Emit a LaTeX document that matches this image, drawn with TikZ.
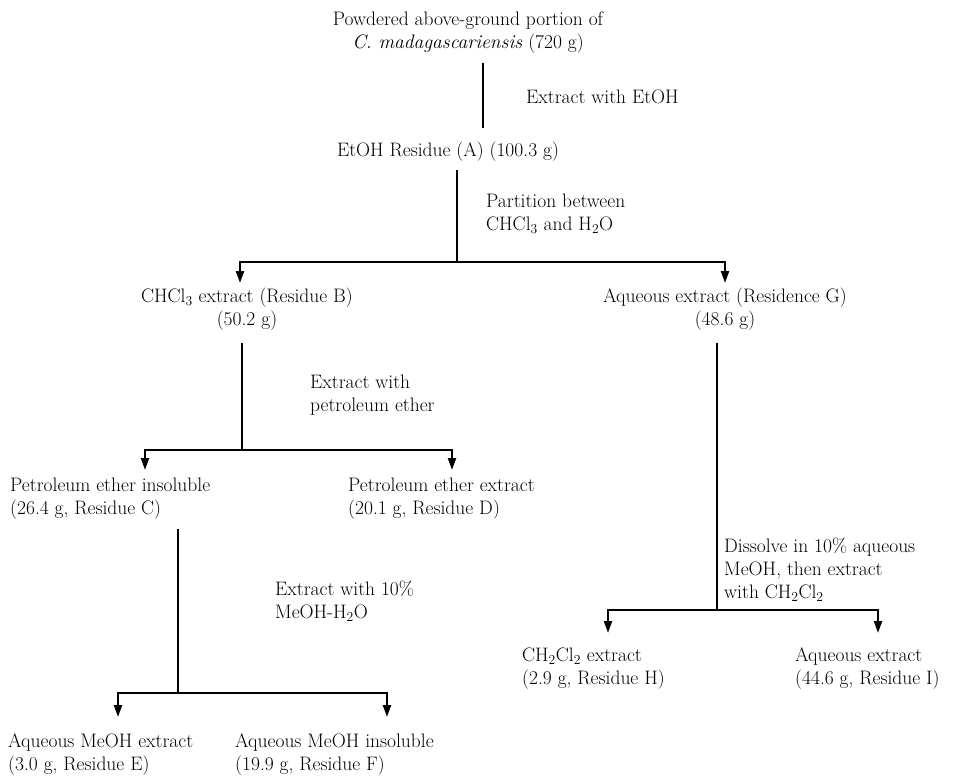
\documentclass[tikz,border=0pt]{standalone}
\usetikzlibrary{arrows.meta}
\begin{document}
\begin{tikzpicture}[x=1pt,y=-1pt,
  ln/.style={line width=2.2pt},
  arr/.style={line width=2.2pt,-{Triangle[length=12pt,width=8pt]}},
  lbl/.style={inner sep=0pt, font=\fontsize{19.5}{23}\selectfont},
  lc/.style={lbl, align=center},
  ll/.style={lbl, align=left, anchor=west}]
\useasboundingbox (0,0) rectangle (969,779);
% nodes
\node[lc] (top) at (468,32.5) {Powdered above-ground portion of\\ \textit{C. madagascariensis} (720 g)};
\node[ll] (s1) at (526,97) {Extract with EtOH};
\node[lc] (A) at (448,152) {EtOH Residue (A) (100.3 g)};
\node[ll] (s2) at (486,213.5) {Partition between\\ CHCl\textsubscript{3} and H\textsubscript{2}O};
\node[lc] (B) at (247,309.5) {CHCl\textsubscript{3} extract (Residue B)\\ (50.2 g)};
\node[lc] (G) at (725,309.5) {Aqueous extract (Residence G)\\ (48.6 g)};
\node[ll] (s3) at (310,395.5) {Extract with\\ petroleum ether};
\node[ll] (C) at (10,498.5) {Petroleum ether insoluble\\ (26.4 g, Residue C)};
\node[ll] (D) at (348,498.5) {Petroleum ether extract\\ (20.1 g, Residue D)};
\node[ll] (s4) at (724,569.5) {Dissolve in 10\% aqueous\\ MeOH, then extract\\ with CH\textsubscript{2}Cl\textsubscript{2}};
\node[ll] (s5) at (275,601.5) {Extract with 10\%\\ MeOH-H\textsubscript{2}O};
\node[ll] (H) at (522,668.5) {CH\textsubscript{2}Cl\textsubscript{2} extract\\ (2.9 g, Residue H)};
\node[ll] (I) at (795,668.5) {Aqueous extract\\ (44.6 g, Residue I)};
\node[ll] (E) at (8,754.5) {Aqueous MeOH extract\\ (3.0 g, Residue E)};
\node[ll] (F) at (235,754.5) {Aqueous MeOH insoluble\\ (19.9 g, Residue F)};
% junction coordinates
\coordinate (x1) at (483,0);
\coordinate (jA) at (457,262);
\coordinate (tB) at (240,283);
\coordinate (tG) at (725,283);
\coordinate (jB) at (242,450);
\coordinate (tC) at (145,470);
\coordinate (tD) at (452,470);
\coordinate (jG) at (717,610);
\coordinate (tH) at (608,633);
\coordinate (tI) at (878,633);
\coordinate (jC) at (178,693);
\coordinate (tE) at (118,717);
\coordinate (tF) at (387,717);
% connectors
\draw[ln] ([yshift=-10pt]top.south -| x1) -- ([yshift=14pt]A.north -| x1);
\draw[ln] ([yshift=-8pt]A.south -| jA) -- (jA);
\draw[arr] (jA) -| (tB);
\draw[arr] (jA) -| (tG);
\draw[ln] ([yshift=-12pt]B.south -| jB) -- (jB);
\draw[arr] (jB) -| (tC);
\draw[arr] (jB) -| (tD);
\draw[ln] ([yshift=-12pt]G.south -| jG) -- (jG);
\draw[arr] (jG) -| (tH);
\draw[arr] (jG) -| (tI);
\draw[ln] ([yshift=-10pt]C.south -| jC) -- (jC);
\draw[arr] (jC) -| (tE);
\draw[arr] (jC) -| (tF);
\end{tikzpicture}
\end{document}
